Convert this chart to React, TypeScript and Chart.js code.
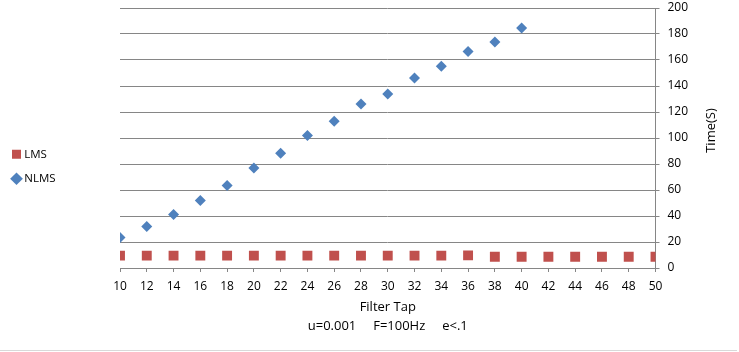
import React, { useEffect, useRef } from "react";
import { Chart, registerables } from "chart.js";

Chart.register(...registerables);

const filterTaps: number[] = [10, 12, 14, 16, 18, 20, 22, 24, 26, 28, 30, 32, 34, 36, 38, 40, 42, 44, 46, 48, 50];
const lmsTime: number[] = [9.5, 9.5, 9.5, 9.5, 9.5, 9.5, 9.5, 9.5, 9.5, 9.5, 9.5, 9.5, 9.5, 9.7, 8.7, 8.7, 8.7, 8.7, 8.7, 8.7, 8.7];
const nlmsTaps: number[] = [10, 12, 14, 16, 18, 20, 22, 24, 26, 28, 30, 32, 34, 36, 38, 40];
const nlmsTime: number[] = [23.5, 32, 41.2, 52, 63.5, 77, 88.2, 102, 112.8, 126.2, 133.8, 146.2, 155.1, 166.6, 173.8, 184.6];
const seriesNames: string[] = ["LMS", "NLMS"];
const xTitle: string[] = ["Filter Tap", "u=0.001     F=100Hz     e<.1"];
const yTitle = "Time(S)";

const FONT = "'Open Sans', sans-serif";
const GRID = "#868686";

export default function App() {
  const ref = useRef<HTMLCanvasElement | null>(null);

  useEffect(() => {
    if (!ref.current) return;
    const helperPlugin = {
      id: "helper",
      afterLayout(chart: any) {
        const lg = chart.legend;
        if (lg) {
          lg.bottom -= 19;
          const shift = chart.__legendShift ?? 0;
          lg.left -= shift;
          lg.right -= shift;
        }
      },
      afterDraw(chart: any) {
        const ctx = chart.ctx;
        ctx.save();
        ctx.translate(711.5, 130.5);
        ctx.rotate(-Math.PI / 2);
        ctx.font = `13px ${FONT}`;
        ctx.fillStyle = "#000";
        ctx.textAlign = "center";
        ctx.textBaseline = "middle";
        ctx.fillText(yTitle, 0, 0);
        ctx.restore();
      },
    };
    const chart = new Chart(ref.current, {
      type: "scatter",
      data: {
        datasets: [
          {
            label: seriesNames[0],
            data: filterTaps.map((x, i) => ({ x, y: lmsTime[i] })),
            pointStyle: "rect",
            pointRadius: 7,
            pointHoverRadius: 7,
            backgroundColor: "#C0504D",
            borderColor: "#C0504D",
            borderWidth: 0,
          },
          {
            label: seriesNames[1],
            data: nlmsTaps.map((x, i) => ({ x, y: nlmsTime[i] })),
            pointStyle: "rectRot",
            pointRadius: 5.5,
            pointHoverRadius: 5.5,
            backgroundColor: "#4F81BD",
            borderColor: "#4F81BD",
            borderWidth: 0,
          },
        ],
      },
      options: {
        animation: false,
        responsive: false,
        maintainAspectRatio: false,
        layout: { padding: 0 },
        plugins: {
          tooltip: { enabled: false },
          legend: {
            position: "left",
            align: "center",
            labels: {
              usePointStyle: true,
              boxWidth: 4,
              boxHeight: 9,
              padding: 13,
              color: "#000",
              font: { family: FONT, size: 11.5 },
            },
          },
        },
        scales: {
          x: {
            type: "linear",
            min: 10,
            max: 50,
            afterFit: (s: any) => {
              s.paddingLeft = 120;
              s.height = 352 - 268;
            },
            ticks: {
              stepSize: 2,
              padding: 7,
              color: "#000",
              font: { family: FONT, size: 12 },
              maxRotation: 0,
              autoSkip: false,
            },
            grid: { drawOnChartArea: false, drawTicks: true, tickLength: 4, color: GRID },
            border: { display: true, color: GRID },
            title: {
              display: true,
              text: xTitle,
              color: "#000",
              font: { family: FONT, size: 13, lineHeight: 1.4 },
              padding: { top: 0, bottom: 17 },
            },
          },
          y: {
            type: "linear",
            position: "right",
            min: 0,
            max: 200,
            afterFit: (s: any) => {
              s.width = 739 - 655.5;
              s.paddingTop = 8;
              s.paddingBottom = 0;
            },
            ticks: {
              stepSize: 20,
              padding: 8,
              color: "#000",
              font: { family: FONT, size: 12 },
            },
            grid: { drawOnChartArea: true, drawTicks: true, tickLength: 4, color: GRID },
            border: { display: true, color: GRID },
          },
        },
      },
      plugins: [helperPlugin],
    });
    const lg: any = (chart as any).legend;
    if (lg && lg.legendHitBoxes && lg.legendHitBoxes.length) {
      const hb = lg.legendHitBoxes[0];
      (chart as any).__legendShift = hb.left + 2 - 16.5;
      chart.update();
    }
    return () => chart.destroy();
  }, []);

  return (
    <div style={{ position: "fixed", left: 0, top: 0, width: 739, height: 352, background: "#fff" }}>
      <canvas ref={ref} width={739} height={352} style={{ display: "block", width: 739, height: 352 }} />
      <div style={{ position: "absolute", left: 0, top: 350, width: 737, height: 1, background: "#d9d9d9" }} />
    </div>
  );
}
